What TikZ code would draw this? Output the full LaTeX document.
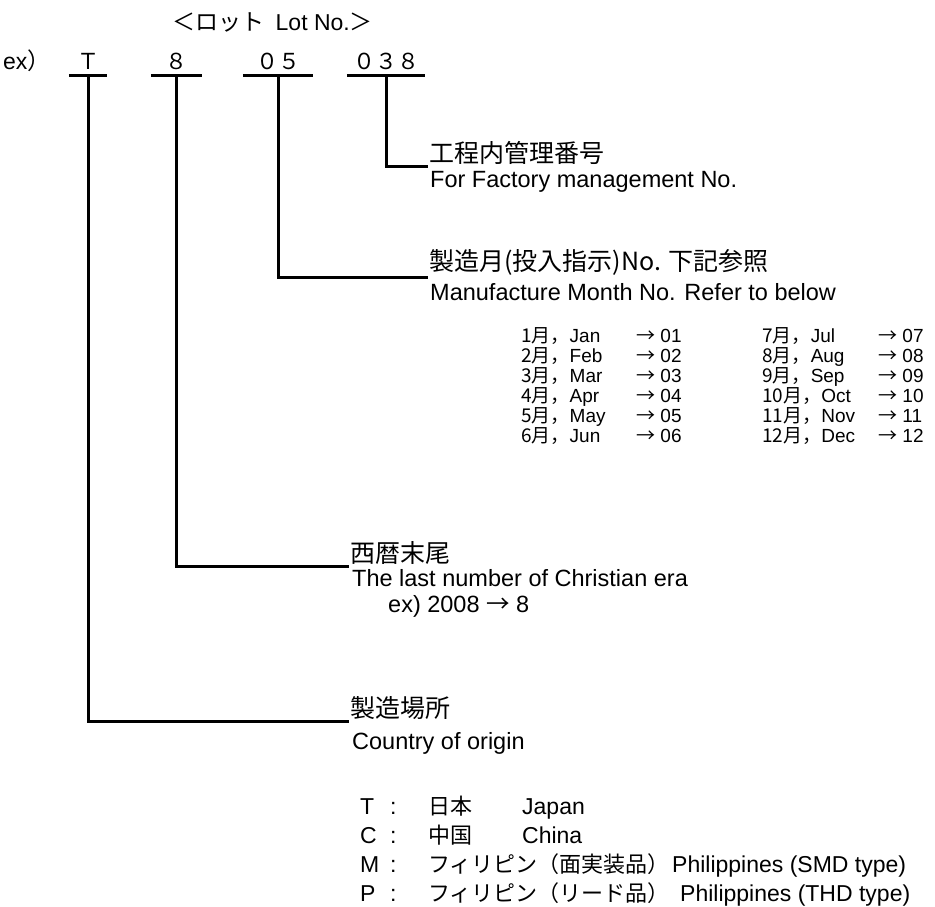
\documentclass[tikz,border=0pt]{standalone}
\usepackage{fontspec}
\setmainfont{Liberation Sans}
\newfontfamily\jpfont{Noto Sans CJK JP}
\usetikzlibrary{positioning}
\tikzset{
    code/.style={
        anchor=base,
        inner xsep=0pt,
        inner ysep=1pt,
        text height=16pt,
        text depth=5pt,
        font=\jpfont\fontsize{22}{26}\selectfont
    },
    ttl/.style={
        anchor=base west,
        inner sep=0pt,
        font=\fontsize{23}{27}\selectfont
    },
    jlbl/.style={
        anchor=south west,
        inner sep=1pt,
        font=\jpfont\fontsize{25}{29}\selectfont
    },
    elbl/.style={
        anchor=base west,
        inner sep=0pt,
        font=\fontsize{23.5}{27}\selectfont
    },
    tbl/.style={
        anchor=base west,
        inner sep=0pt,
        font=\fontsize{19}{22}\selectfont
    },
    lst/.style={
        anchor=base west,
        inner sep=0pt,
        font=\fontsize{23}{27}\selectfont
    },
    lead/.style={line width=3pt}
}
\begin{document}
\begin{tikzpicture}[x=1pt,y=-1pt]
\useasboundingbox (0,0) rectangle (935,906);

% header
\node[ttl] (title) at (172,30) {{\jpfont ＜ロット}\enspace Lot No.{\jpfont ＞}};
\node[ttl] (ex) at (3,69) {ex{\jpfont ）}};

\node[code, minimum width=38] (cT) at (88,69) {Ｔ};
\node[code, minimum width=51] (c8) at (176.5,69) {８};
\node[code, minimum width=70] (c05) at (278,69) {０５};
\node[code, minimum width=78] (c038) at (386,69) {０３８};
\foreach \c in {cT,c8,c05,c038}
    \draw[lead] (\c.south west) -- (\c.south east);

% labels
\node[jlbl] (l038) at (428,166) {工程内管理番号};
\node[elbl] (e038) at (430,187) {For Factory management No.};

\node[jlbl] (l05) at (428,277) {製造月(投入指示)No. 下記参照};
\node[elbl] (e05) at (430,300) {Manufacture Month No. Refer to below};

\node[jlbl] (l8) at (349,566) {西暦末尾};
\node[elbl] (e8) at (352,586) {The last number of Christian era};
\node[elbl] (x8) at (388,612) {ex) 2008 {\jpfont →} 8};

\node[jlbl] (lT) at (349,721) {製造場所};
\node[elbl] (eT) at (352,749) {Country of origin};

% leaders
\draw[lead] (c038.south) |- (l038.south west);
\draw[lead] (c05.south) |- (l05.south west);
\draw[lead] (c8.south) |- (l8.south west);
\draw[lead] (cT.south) |- (lT.south west);

% month table
\foreach \ma/\ea/\na/\mb/\eb/\nb [count=\i] in
    {1/Jan/01/7/Jul/07, 2/Feb/02/8/Aug/08, 3/Mar/03/9/Sep/09,
     4/Apr/04/10/Oct/10, 5/May/05/11/Nov/11, 6/Jun/06/12/Dec/12}{
    \node[tbl] (ml\i) at (521,{322+20*\i}) {{\jpfont \ma 月，}\ea};
    \node[tbl] (al\i) at (636,{322+20*\i}) {{\jpfont →} \na};
    \node[tbl] (mr\i) at (762,{322+20*\i}) {{\jpfont \mb 月，}\eb};
    \node[tbl] (ar\i) at (878,{322+20*\i}) {{\jpfont →} \nb};
}

% origin list
\foreach \k/\jn/\en/\ex [count=\i] in
    {T/日本/Japan/522, C/中国/China/522,
     M/フィリピン（面実装品）/Philippines (SMD type)/672,
     P/フィリピン（リード品）/Philippines (THD type)/680}{
    \node[lst] (k\i) at (360,{785+29*\i}) {\k};
    \node[lst] (s\i) at (390,{785+29*\i}) {:};
    \node[lst] (j\i) at (428,{785+29*\i}) {\jpfont\fontsize{22}{26}\selectfont \jn};
    \node[lst] (n\i) at (\ex,{785+29*\i}) {\en};
}
\end{tikzpicture}
\end{document}
